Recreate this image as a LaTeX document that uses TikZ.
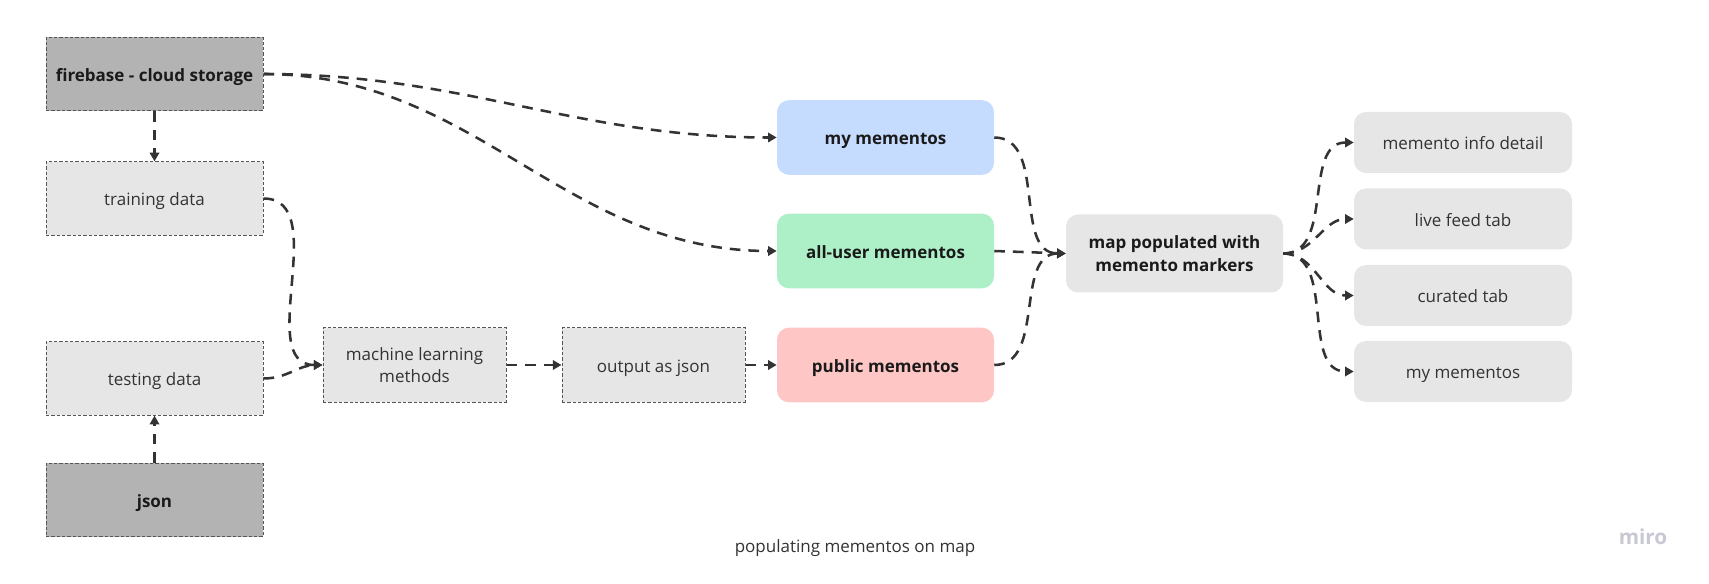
\documentclass[tikz,border=0pt]{standalone}
\usepackage{fontspec}
\setmainfont{Open Sans}
\usetikzlibrary{arrows.meta}
\definecolor{dgray}{HTML}{B3B3B3}
\definecolor{lgray}{HTML}{E6E6E6}
\definecolor{bord}{HTML}{555555}
\definecolor{lc}{HTML}{333333}
\definecolor{txt}{HTML}{1A1A1A}
\definecolor{txtr}{HTML}{333333}
\definecolor{cblue}{HTML}{C6DCFF}
\definecolor{cgreen}{HTML}{ADF0C7}
\definecolor{cpink}{HTML}{FFC6C6}
\definecolor{mirocol}{HTML}{C8C8D4}
\begin{document}
\begin{tikzpicture}[x=0.75pt,y=-0.75pt,
  base/.style={align=center, inner sep=0pt},
  boldtext/.style={font=\fontsize{12.75}{17.5}\selectfont\bfseries, text=txt},
  regtext/.style={font=\fontsize{12.75}{16.5}\selectfont, text=txtr},
  oneline/.style={text height=1.35em, text depth=0.27em},
  darkbox/.style={base, boldtext, oneline, fill=dgray, draw=bord, line width=0.75pt, dash pattern=on 2.5pt off 1.5pt, minimum width=162.75pt, minimum height=55pt},
  lightbox/.style={base, regtext, oneline, fill=lgray, draw=bord, line width=0.75pt, dash pattern=on 2.5pt off 1.5pt, minimum width=162.75pt, minimum height=55pt},
  midbox/.style={lightbox, minimum width=137.25pt, minimum height=55.5pt},
  membox/.style={base, boldtext, oneline, rounded corners=9pt, minimum width=162.75pt, minimum height=56pt},
  mapbox/.style={base, boldtext, fill=lgray, rounded corners=9pt, minimum width=162.75pt, minimum height=58.5pt},
  rbox/.style={base, regtext, oneline, fill=lgray, rounded corners=9pt, minimum width=163.5pt, minimum height=45.75pt},
  conn/.style={draw=lc, line width=1.9pt, dash pattern=on 8pt off 6pt, -{Triangle[length=6.5pt,width=7pt]}}
]
\useasboundingbox (0,0) rectangle (1709,584);

\node[darkbox] (fire) at (154.5,74) {firebase - cloud storage};
\node[lightbox] (train) at (154.5,198.5) {training data};
\node[lightbox] (test) at (154.5,378.5) {testing data};
\node[darkbox] (json) at (154.5,500) {json};
\node[midbox, text height=, text depth=] (ml) at (414.5,365) {machine learning\\methods};
\node[midbox] (out) at (653.5,365) {output as json};
\node[membox, fill=cpink] (pub) at (885.5,365) {public mementos};
\node[membox, fill=cblue] (mym) at (885.5,137.5) {my mementos};
\node[membox, fill=cgreen] (all) at (885.5,251) {all-user mementos};
\node[mapbox] (map) at (1174.5,253.5) {map populated with\\memento markers};
\node[rbox] (info) at (1463,142.5) {memento info detail};
\node[rbox] (live) at (1463,219) {live feed tab};
\node[rbox] (cur) at (1463,295.5) {curated tab};
\node[rbox] (mym2) at (1463,371.5) {my mementos};

\node[base, regtext, oneline] (title) at (855,545) {populating mementos on map};
\node[base, text=mirocol, font=\fontsize{15.5}{17}\selectfont\bfseries] (miro) at (1643,537) {miro};

\draw[conn] (fire.south) -- (train.north);
\draw[conn] (json.north) -- (test.south);
\draw[conn] (train.east) to[out=0,in=180] (ml.west);
\draw[conn] (test.east) to[out=0,in=180] (ml.west);
\draw[conn] (ml.east) -- (out.west);
\draw[conn] (out.east) -- (pub.west);
\draw[conn] (fire.east) to[out=0,in=180] (mym.west);
\draw[conn] (fire.east) to[out=0,in=180] (all.west);
\draw[conn] (mym.east) to[out=0,in=180] (map.west);
\draw[conn] (all.east) -- (map.west);
\draw[conn] (pub.east) to[out=0,in=180] (map.west);
\draw[conn] (map.east) to[out=0,in=180] (info.west);
\draw[conn] (map.east) to[out=0,in=180] (live.west);
\draw[conn] (map.east) to[out=0,in=180] (cur.west);
\draw[conn] (map.east) to[out=0,in=180] (mym2.west);
\end{tikzpicture}
\end{document}
